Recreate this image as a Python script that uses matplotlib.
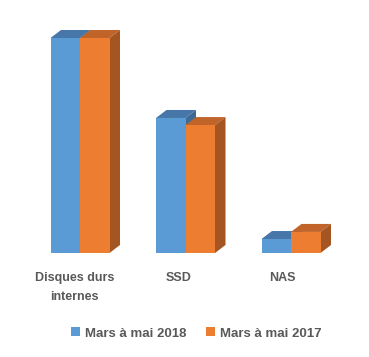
import numpy as np
import matplotlib.pyplot as plt
from matplotlib.patches import Polygon, Patch

categories = ['Disques durs\ninternes', 'SSD', 'NAS']
series_names = ['Mars à mai 2018', 'Mars à mai 2017']
v2018 = [100, 62.8, 6.5]
v2017 = [100, 59.5, 9.8]

front = ['#5B9BD5', '#ED7D31']
top = ['#4677A8', '#C0642A']
side = ['#3E6A96', '#A55522']

W, H = 369, 357
fig = plt.figure(figsize=(W / 100, H / 100), dpi=100)
# axes placed so that baseline sits at y=253 px from top
ax = fig.add_axes([0, (H - 253) / H, 1, (253 - 20) / H])
px_x = 105.5   # px per category unit
px_y = 2.15    # px per value unit
ax.set_xlim(-80 / px_x, (W - 80) / px_x)
ax.set_ylim(0, 233 / px_y)
ax.axis('off')

bw = 29.5 / px_x
dx = 10.5 / px_x
dy = 8 / px_y

x = np.arange(len(categories))
for s, vals in enumerate([v2018, v2017]):
    for i, v in enumerate(vals):
        x0 = x[i] - bw + s * bw
        x1 = x0 + bw
        ax.add_patch(Polygon([(x0, v), (x0 + dx, v + dy), (x1 + dx, v + dy), (x1, v)],
                             closed=True, fc=top[s], ec='none', zorder=2 + s))
        ax.add_patch(Polygon([(x1, 0), (x1 + dx, dy), (x1 + dx, v + dy), (x1, v)],
                             closed=True, fc=side[s], ec='none', zorder=2 + s))
        ax.bar(x0, v, width=bw, align='edge', color=front[s], zorder=2 + s)

label_x = [-0.05, 0.93, 1.92]
for lx, lab in zip(label_x, categories):
    ax.text(lx, -19 / px_y, lab, ha='center', va='top', fontsize=9, color='#595959',
            family='Liberation Sans', fontweight='bold', multialignment='center',
            linespacing=1.75)

handles = [Patch(fc=front[0]), Patch(fc=front[1])]
fig.legend(handles, series_names, loc='center', bbox_to_anchor=(0.532, (H - 333.5) / H),
           ncol=2, frameon=False, prop={'family': 'Liberation Sans', 'weight': 'bold', 'size': 9.5},
           labelcolor='#595959', handlelength=0.65, handleheight=0.65, handletextpad=0.4,
           columnspacing=1.5)

fig.savefig('out.png', dpi=100, facecolor='white')
